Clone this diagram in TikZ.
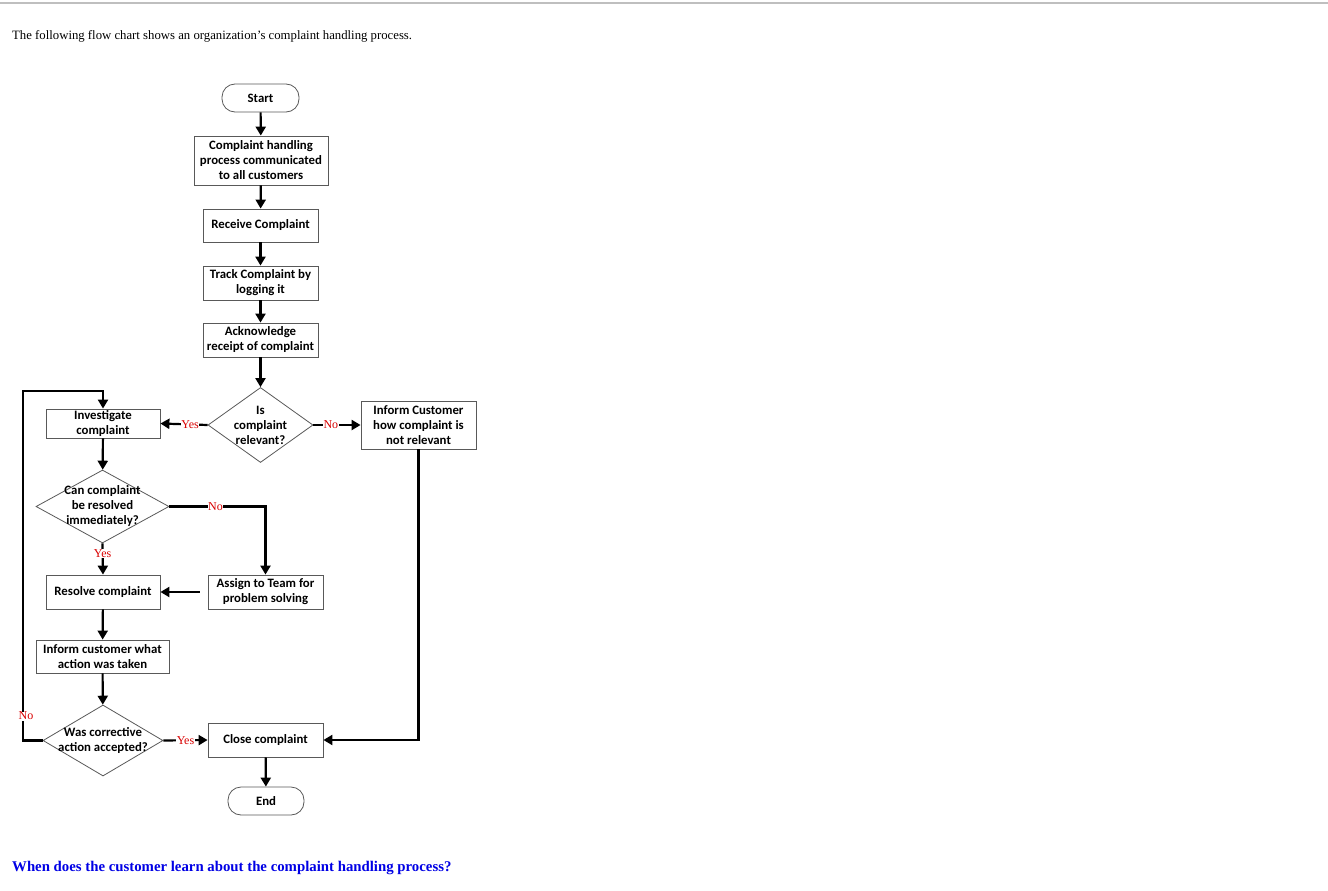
\documentclass[tikz,border=0pt]{standalone}
\usepackage{fontspec}
\setmainfont{Liberation Serif}
\newfontfamily\calfont{Carlito}
\usetikzlibrary{arrows.meta,shapes.geometric}
\begin{document}
\begin{tikzpicture}[x=1pt,y=-1pt,
  boxtext/.style={font=\calfont\bfseries\fontsize{12.8}{15}\selectfont, align=center},
  box/.style={boxtext, draw=black!65, line width=0.8pt, rectangle, inner sep=0pt},
  term/.style={box, rounded corners=13pt},
  dia/.style={diamond, draw=black!65, line width=0.8pt, inner sep=0pt},
  flow/.style={line width=2.2pt, -{Triangle[length=9pt,width=10pt]}},
  lab/.style={font=\fontsize{12}{13}\selectfont, text=red!85!black, fill=white, inner sep=0.5pt}
]
\useasboundingbox (0,0) rectangle (1328,891);
\fill[white] (0,0) rectangle (1328,891);
\draw[black!25, line width=1.5pt] (0,3) -- (1328,3);

\node[anchor=base west, inner sep=0pt, font=\fontsize{12.75}{14}\selectfont] (title) at (12,40) {The following flow chart shows an organization's complaint handling process.};

\node[term, minimum width=77pt, minimum height=28pt] (start) at (260.5,98) {Start};
\node[box, minimum width=134pt, minimum height=49pt] (b1) at (261,160.5) {Complaint handling\\process communicated\\to all customers};
\node[box, minimum width=115pt, minimum height=33pt] (recv) at (260.5,225.5) {Receive Complaint};
\node[box, minimum width=115pt, minimum height=34pt] (track) at (260.5,283) {Track Complaint by\\logging it};
\node[box, minimum width=115pt, minimum height=34pt] (ack) at (260.5,340) {Acknowledge\\receipt of complaint};
\node[dia, minimum width=105pt, minimum height=75pt] (d1) at (260.5,425) {};
\node[boxtext] (d1t) at (260.5,425) {Is\\complaint\\relevant?};
\node[box, minimum width=115pt, minimum height=48pt] (inf1) at (418.5,425) {Inform Customer\\how complaint is\\not relevant};
\node[box, minimum width=114pt, minimum height=29pt] (inv) at (103,423.5) {Investigate\\complaint};
\node[dia, minimum width=133pt, minimum height=73pt] (d2) at (102.5,506.5) {};
\node[boxtext] (d2t) at (102.5,506.5) {Can complaint\\be resolved\\immediately?};
\node[box, minimum width=114pt, minimum height=34pt] (res) at (103,592) {Resolve complaint};
\node[box, minimum width=115pt, minimum height=34pt] (assign) at (265.5,592) {Assign to Team for\\problem solving};
\node[box, minimum width=133pt, minimum height=33pt] (infact) at (102.5,656.5) {Inform customer what\\action was taken};
\node[dia, minimum width=120pt, minimum height=71pt] (d3) at (103,740.5) {};
\node[boxtext] (d3t) at (103,740.5) {Was corrective\\action accepted?};
\node[box, minimum width=115pt, minimum height=34pt] (close) at (265.5,740) {Close complaint};
\node[term, minimum width=76pt, minimum height=28pt] (end) at (266,801) {End};

\coordinate (lp1) at (23,740.5);
\coordinate (lp2) at (23,391);

\draw[flow] (start) -- (b1);
\draw[flow] (b1) -- (recv);
\draw[flow] (recv) -- (track);
\draw[flow] (track) -- (ack);
\draw[flow] (ack) -- (d1);
\draw[flow] (d1.west) -- node[lab, pos=0.37] {Yes} (inv.east);
\draw[flow] (d1.east) -- node[lab, pos=0.37] {No} (inf1.west);
\draw[flow] (inv) -- (d2);
\draw[flow] (d2.east) -| node[lab, pos=0.24] {No} (assign.north);
\draw[flow] (d2.south) -- node[lab, pos=0.33] {Yes} (res.north);
\draw[flow, shorten <=8pt] (assign.west) -- (res.east);
\draw[flow] (res) -- (infact);
\draw[flow] (infact) -- (d3);
\draw[flow] (d3.east) -- node[lab, pos=0.5] {Yes} (close.west);
\draw[flow] (inf1.south) |- (close.east);
\draw[flow] (close) -- (end);
\draw[flow] (d3.west) -- (lp1) -- node[lab, pos=0.07, xshift=3pt] {No} (lp2) -| (inv.north);

\node[anchor=base west, inner sep=0pt, font=\bfseries\fontsize{14.8}{16}\selectfont, text=blue!90!black] (q) at (12,871) {When does the customer learn about the complaint handling process?};
\end{tikzpicture}
\end{document}
